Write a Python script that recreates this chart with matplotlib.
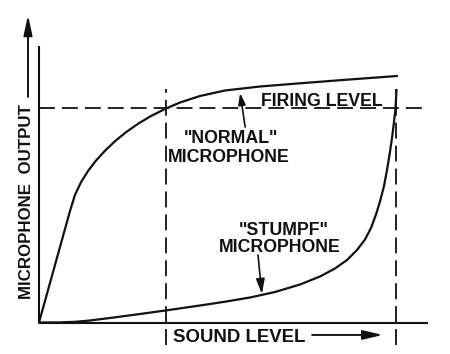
import matplotlib
matplotlib.use("Agg")
import matplotlib.pyplot as plt
from matplotlib.patches import FancyArrowPatch

# ---- data (sound level 0-100, microphone output 0-100) ----
normal_x = [0, 7.97, 9.25, 10.80, 12.60, 14.65, 16.97, 19.54, 22.37, 25.45, 28.79, 32.65,
            36.25, 41.39, 47.81, 56.81, 67.10, 77.38, 92.03]
normal_y = [0, 40.33, 46.18, 50.74, 54.79, 58.55, 62.13, 65.57, 68.82, 71.86, 74.68, 77.40,
            79.57, 81.92, 83.91, 85.35, 86.51, 87.63, 89.15]

stumpf_x = [0, 5.40, 9.25, 13.11, 18.25, 25.96, 32.65, 41.39, 47.81, 54.24, 60.67, 67.10,
            72.24, 76.09, 79.18, 81.75, 83.80, 85.35, 86.63, 87.66, 88.69, 89.46, 90.10,
            90.75, 91.26, 91.65, 91.90]
stumpf_y = [0, 0.04, 0.25, 0.72, 1.63, 3.07, 4.37, 6.15, 7.52, 9.04, 11.03, 13.74,
            16.64, 19.53, 22.60, 26.22, 30.02, 34.18, 39.06, 43.76, 49.37, 55.15, 60.58,
            66.73, 72.51, 77.58, 84.09]

firing_level = 77.5
marker_levels = [32.65, 91.8]

x_label = "SOUND LEVEL"
y_label = "MICROPHONE  OUTPUT"
firing_label = "FIRING LEVEL"
normal_label = ['"NORMAL"', "MICROPHONE"]
stumpf_label = ['"STUMPF"', "MICROPHONE"]

# ---- figure ----
W, H = 450, 354
fig = plt.figure(figsize=(W / 100, H / 100), dpi=100)
fig.patch.set_facecolor("white")
ax = fig.add_axes([39 / W, (H - 322.5) / H, 389 / W, 276.5 / H])
ax.set_xlim(0, 100)
ax.set_ylim(0, 100)
ax.axis("off")

ink = "#111111"
font = dict(family=["Liberation Sans", "DejaVu Sans"], fontweight="bold", color=ink)

# axes lines
ax.plot([0, 100], [0, 0], color=ink, lw=1.5, clip_on=False, solid_capstyle="butt")
ax.plot([0, 0], [0, 100], color=ink, lw=1.5, clip_on=False, solid_capstyle="butt")

# dashed reference lines
dash = (0, (8.8, 3.9))
ax.plot([0, 100], [firing_level, firing_level], color=ink, lw=1.3, ls=dash, clip_on=False)
for xv in marker_levels:
    ax.plot([xv, xv], [-8.1, 84.4], color=ink, lw=1.3, ls=dash, clip_on=False)

# curves
ax.plot(normal_x, normal_y, color=ink, lw=1.6, clip_on=False,
        solid_joinstyle="round", solid_capstyle="round")
ax.plot(stumpf_x, stumpf_y, color=ink, lw=1.6, clip_on=False,
        solid_joinstyle="round", solid_capstyle="round")


def arrow(p0, p1, hl, hw, lw=1.4):
    a = FancyArrowPatch(p0, p1, arrowstyle=f"-|>,head_length={hl},head_width={hw}",
                        mutation_scale=1, color=ink, lw=lw, clip_on=False,
                        shrinkA=0, shrinkB=0)
    ax.add_patch(a)


# axis arrows
arrow((-2.83, 81.6), (-2.83, 111.2), 12, 2.6)
arrow((70.2, -4.5), (88.4, -4.5), 12, 2.8)

# label arrows
arrow((53.0, 70.7), (51.7, 83.0), 7, 2.2, lw=1.2)
arrow((56.3, 24.4), (57.3, 10.3), 9, 2.6, lw=1.2)

# texts
fs = 12.8
ax.text(57.1, 78.3, firing_label, fontsize=fs, ha="left", va="baseline", **font)
ax.text(49.4, 64.9, normal_label[0], fontsize=fs, ha="center", va="baseline", **font)
ax.text(48.8, 58.0, normal_label[1], fontsize=fs, ha="center", va="baseline", **font)
ax.text(63.0, 31.6, stumpf_label[0], fontsize=fs, ha="center", va="baseline", **font)
ax.text(62.0, 25.5, stumpf_label[1], fontsize=fs, ha="center", va="baseline", **font)
ax.text(34.4, -7.05, x_label, fontsize=13.4, ha="left", va="baseline", **font)
ax.text(-3.1, 43.8, y_label, fontsize=12.2, rotation=90, ha="center", va="center", **font)

fig.savefig("out.png", dpi=100, facecolor="white")
